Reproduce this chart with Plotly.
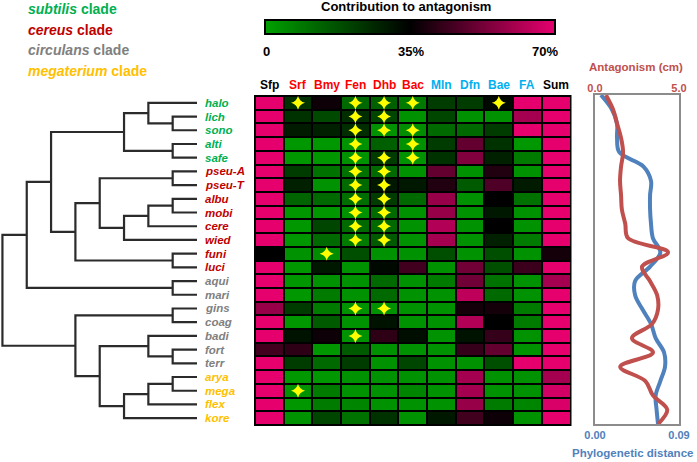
import plotly.graph_objects as go

W, H = 697, 462
def fx(px): return px / W
def fy(py): return 1 - py / H

# ---------------- data ----------------
species = ["halo", "lich", "sono", "alti", "safe", "pseu-A", "pseu-T", "albu", "mobi",
           "cere", "wied", "funi", "luci", "aqui", "mari", "gins", "coag", "badi",
           "fort", "terr", "arya", "mega", "flex", "kore"]
clade_of_species = (["subtilis"] * 5 + ["cereus"] * 8 + ["circulans"] * 7 + ["megaterium"] * 4)
clade_names = ["subtilis", "cereus", "circulans", "megaterium"]
clade_colors = {"subtilis": "#00B050", "cereus": "#C00000",
                "circulans": "#808080", "megaterium": "#FFC000"}

columns = ["Sfp", "Srf", "Bmy", "Fen", "Dhb", "Bac", "Mln", "Dfn", "Bae", "FA", "Sum"]
column_colors = ["#000000"] + ["#FF0000"] * 5 + ["#00B0F0"] * 4 + ["#000000"]

# contribution to antagonism (%), rows = species, cols = columns
contribution = [
    [70, 24, 37, 12, 14, 8, 22, 22, 33, 70, 70],   # halo
    [70, 24, 19, 25, 20, 3, 20, 3, 3, 60, 70],     # lich
    [70, 29, 28, 25, 3, 4, 12, 12, 22, 70, 70],    # sono
    [70, 2, 2, 3, 14, 3, 22, 50, 24, 2, 70],       # alti
    [70, 2, 2, 3, 22, 3, 24, 55, 28, 8, 70],       # safe
    [70, 22, 10, 10, 12, 3, 50, 3, 40, 3, 70],     # pseu-A
    [70, 28, 3, 12, 30, 30, 40, 15, 47, 29, 70],   # pseu-T
    [70, 13, 12, 11, 22, 12, 58, 3, 35, 10, 70],   # albu
    [70, 2, 2, 3, 12, 3, 58, 3, 30, 3, 70],        # mobi
    [70, 2, 20, 12, 12, 3, 62, 3, 35, 3, 70],      # cere
    [70, 2, 12, 8, 15, 3, 60, 3, 28, 8, 70],       # wied
    [35, 3, 4, 18, 3, 3, 18, 3, 18, 3, 38],        # funi
    [70, 2, 30, 3, 33, 45, 3, 52, 18, 44, 70],     # luci
    [70, 2, 3, 3, 12, 3, 8, 52, 10, 3, 60],        # aqui
    [70, 2, 8, 3, 12, 3, 3, 64, 12, 3, 70],        # mari
    [58, 22, 8, 3, 3, 3, 3, 38, 38, 8, 70],        # gins
    [70, 2, 15, 3, 31, 3, 3, 62, 35, 8, 70],       # coag
    [70, 31, 37, 3, 42, 32, 3, 31, 43, 3, 70],     # badi
    [45, 42, 2, 15, 3, 3, 3, 43, 50, 3, 70],       # fort
    [70, 22, 12, 22, 3, 20, 3, 3, 18, 70, 70],     # terr
    [70, 2, 2, 3, 3, 3, 3, 60, 3, 3, 60],          # arya
    [70, 3, 8, 3, 3, 6, 3, 60, 3, 3, 67],          # mega
    [70, 2, 8, 6, 3, 3, 3, 58, 8, 6, 68],          # flex
    [70, 3, 20, 10, 24, 3, 30, 45, 37, 3, 70],     # kore
]

# significant contributions (star markers): species -> columns
stars = {
    "halo": ["Srf", "Fen", "Dhb", "Bac", "Bae"],
    "lich": ["Fen", "Dhb"],
    "sono": ["Fen", "Dhb", "Bac"],
    "alti": ["Fen", "Bac"],
    "safe": ["Fen", "Dhb", "Bac"],
    "pseu-A": ["Fen", "Dhb"],
    "pseu-T": ["Fen", "Dhb"],
    "albu": ["Fen", "Dhb"],
    "mobi": ["Fen", "Dhb"],
    "cere": ["Fen", "Dhb"],
    "wied": ["Fen", "Dhb"],
    "funi": ["Bmy"],
    "gins": ["Fen", "Dhb"],
    "badi": ["Fen"],
    "mega": ["Srf"],
}

# dendrogram merges: (child a, child b, height); leaves are 0..23, new nodes 24..
merges = [
    (1, 2, 1), (3, 4, 1), (5, 6, 1), (7, 8, 1), (11, 12, 1), (13, 14, 1),
    (15, 16, 1), (18, 19, 1), (20, 21, 1),
    (0, 24, 2),        # 33
    (33, 25, 3),       # 34
    (27, 9, 2),        # 35
    (35, 10, 3),       # 36
    (26, 36, 4),       # 37
    (37, 28, 5),       # 38
    (34, 38, 6),       # 39
    (39, 29, 7),       # 40
    (17, 31, 2),       # 41
    (32, 22, 2),       # 42
    (42, 23, 3),       # 43
    (41, 43, 4),       # 44
    (30, 44, 5),       # 45
    (40, 45, 8),       # 46 root
]

antagonism_cm = [0.65, 1.07, 1.31, 1.55, 1.67, 1.55, 1.49, 1.55, 1.6, 1.8, 1.96, 4.35,
                 2.8, 3.27, 3.7, 3.75, 3.4, 2.2, 3.45, 1.5, 3.0, 3.45, 4.3, 3.75]
phylo_distance = [0.0064, 0.018, 0.0236, 0.0236, 0.026, 0.052, 0.060, 0.059, 0.059, 0.060,
                  0.062, 0.070, 0.059, 0.043, 0.043, 0.051, 0.060, 0.065, 0.074, 0.075,
                  0.070, 0.065, 0.066, 0.0675]

FONT = "Arial, Liberation Sans, sans-serif"
RED = "#C0504D"
BLUE = "#4F81BD"

fig = go.Figure()

# ---------------- dendrogram ----------------
n = len(species)
node_y = {i: float(i) for i in range(n)}
node_h = {i: 0.0 for i in range(n)}
dx, dy = [], []
for k, (a, b, h) in enumerate(merges):
    nid = n + k
    dx += [node_h[a], h, h, node_h[b], None]
    dy += [node_y[a], node_y[a], node_y[b], node_y[b], None]
    node_y[nid] = (node_y[a] + node_y[b]) / 2
    node_h[nid] = h
fig.add_trace(go.Scatter(x=dx, y=dy, xaxis="x", yaxis="y", mode="lines",
                         line=dict(color="#2b2b2b", width=2.2), hoverinfo="skip",
                         showlegend=False))

# ---------------- heatmap ----------------
fig.add_trace(go.Heatmap(
    z=contribution, x=list(range(len(columns))), y=list(range(n)),
    xaxis="x2", yaxis="y", zmin=0, zmax=70, xgap=2, ygap=2,
    colorscale=[[0, "#00A000"], [0.5, "#000000"], [1, "#E6006E"]],
    colorbar=dict(orientation="h", x=fx(410), xanchor="center", y=fy(20), yanchor="top",
                  len=290 / W, lenmode="fraction", thickness=14, thicknessmode="pixels",
                  outlinewidth=2, outlinecolor="black", showticklabels=False, ticks="",
                  xpad=0, ypad=0),
    hoverinfo="skip"))

sx, sy = [], []
for sp, cols in stars.items():
    for c in cols:
        sx.append(columns.index(c))
        sy.append(species.index(sp))
fig.add_trace(go.Scatter(x=sx, y=sy, xaxis="x2", yaxis="y", mode="markers",
                         marker=dict(symbol="star-diamond", size=10, color="#FFFF00",
                                     line=dict(width=0)),
                         hoverinfo="skip", showlegend=False))

# ---------------- right panel ----------------
rows = list(range(n))
fig.add_trace(go.Scatter(x=phylo_distance, y=rows, xaxis="x3", yaxis="y3", mode="lines",
                         line=dict(color=BLUE, width=4, shape="spline", smoothing=1),
                         hoverinfo="skip", showlegend=False))
fig.add_trace(go.Scatter(x=antagonism_cm, y=rows, xaxis="x4", yaxis="y3", mode="lines",
                         line=dict(color=RED, width=4, shape="spline", smoothing=1),
                         hoverinfo="skip", showlegend=False))

annotations = []
# clade legend
for i, cn in enumerate(clade_names):
    annotations.append(dict(x=fx(26), y=fy(9 + 20.7 * i), xref="paper", yref="paper",
                            xanchor="left", yanchor="middle", showarrow=False,
                            text=f"<b><i>{cn}</i> clade</b>",
                            font=dict(family=FONT, size=14, color=clade_colors[cn])))
# species labels
for i, sp in enumerate(species):
    annotations.append(dict(x=fx(203), y=i, xref="paper", yref="y", xanchor="left",
                            yanchor="middle", showarrow=False,
                            text=f"<b><i>{sp}</i></b>",
                            font=dict(family=FONT, size=11.5,
                                      color=clade_colors[clade_of_species[i]])))
# column headers
for j, c in enumerate(columns):
    annotations.append(dict(x=j, y=fy(85), xref="x2", yref="paper", xanchor="center",
                            yanchor="middle", showarrow=False, text=f"<b>{c}</b>",
                            font=dict(family=FONT, size=12, color=column_colors[j])))
# colorbar title and labels
annotations.append(dict(x=fx(406), y=fy(6), xref="paper", yref="paper", xanchor="center",
                        yanchor="middle", showarrow=False,
                        text="<b>Contribution to antagonism</b>",
                        font=dict(family=FONT, size=13, color="black")))
for lbl, px in [("0", 266), ("35%", 411), ("70%", 545)]:
    annotations.append(dict(x=fx(px), y=fy(52), xref="paper", yref="paper",
                            xanchor="center", yanchor="middle", showarrow=False,
                            text=f"<b>{lbl}</b>",
                            font=dict(family=FONT, size=13, color="black")))
# right panel axis titles
annotations.append(dict(x=fx(636), y=fy(67), xref="paper", yref="paper", xanchor="center",
                        yanchor="middle", showarrow=False, text="<b>Antagonism (cm)</b>",
                        font=dict(family=FONT, size=11.5, color=RED)))
annotations.append(dict(x=fx(632), y=fy(453), xref="paper", yref="paper", xanchor="center",
                        yanchor="middle", showarrow=False,
                        text="<b>Phylogenetic distance</b>",
                        font=dict(family=FONT, size=11.5, color=BLUE)))

shapes = [dict(type="rect", xref="paper", yref="paper", x0=fx(254), x1=fx(571.5),
               y0=fy(426), y1=fy(95), fillcolor="black", line=dict(width=0),
               layer="below")]

hidden = dict(visible=False, showgrid=False, zeroline=False)
fig.update_layout(
    width=W, height=H, margin=dict(l=0, r=0, t=0, b=0, pad=0, autoexpand=False),
    paper_bgcolor="white", plot_bgcolor="white", showlegend=False,
    font=dict(family=FONT),
    xaxis=dict(domain=[0, fx(197)], range=[8.1, 0], anchor="y", **hidden),
    yaxis=dict(domain=[fy(425), fy(96)], range=[n - 0.5, -0.5], anchor="x2", **hidden),
    xaxis2=dict(domain=[fx(255), fx(570.5)], range=[-0.5, len(columns) - 0.5], anchor="y",
                **hidden),
    xaxis3=dict(domain=[fx(595), fx(679)], range=[0, 0.09], anchor="y3", side="bottom",
                tickvals=[0, 0.09], ticktext=["0.00", "0.09"], ticks="",
                tickfont=dict(family=FONT, size=11, color=BLUE, weight="bold"),
                showline=True, mirror=True, linecolor="#8c8c8c", linewidth=2,
                showgrid=False, zeroline=False, automargin=False),
    xaxis4=dict(range=[0, 5], overlaying="x3", anchor="y3", side="top",
                tickvals=[0, 5], ticktext=["0.0", "5.0"], ticks="",
                tickfont=dict(family=FONT, size=11, color=RED, weight="bold"),
                showline=False, showgrid=False, zeroline=False, automargin=False),
    yaxis3=dict(domain=[fy(424), fy(95)], range=[n - 1, 0], anchor="x3",
                showticklabels=False, ticks="", showline=True, mirror=True,
                linecolor="#8c8c8c", linewidth=2, showgrid=False, zeroline=False,
                automargin=False),
    annotations=annotations, shapes=shapes,
)

fig.write_html("out.html", config={"displayModeBar": False},
               post_script="document.body.style.margin='0';document.body.style.overflow='hidden';")
